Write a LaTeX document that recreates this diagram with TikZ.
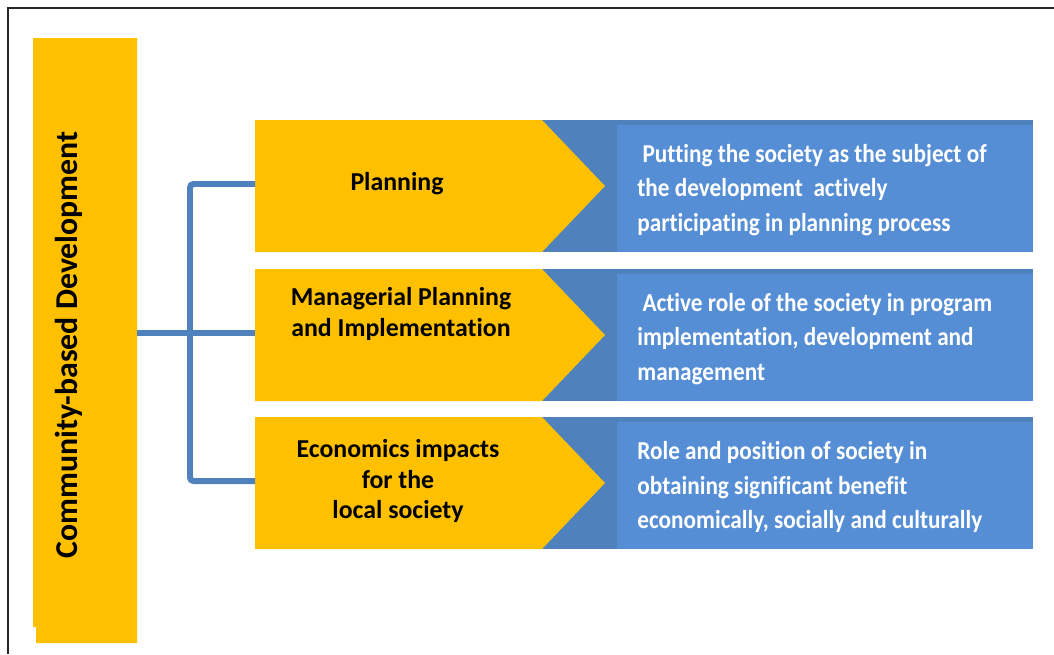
\documentclass[tikz,border=0pt]{standalone}
\usepackage{fontspec}
\setmainfont{Carlito}[Ligatures=NoCommon]
\newfontfamily\boxfont{Carlito}[FakeStretch=0.9, Ligatures=NoCommon]

\definecolor{myel}{RGB}{255, 192, 0}
\definecolor{mblu}{RGB}{85, 142, 213}
\definecolor{mdbl}{RGB}{79, 129, 189}

\tikzset{
	lab/.style={font=\bfseries\fontsize{14.7}{17.3}\selectfont, align=center, text=black, inner sep=0pt},
	txt/.style={font=\boxfont\bfseries\fontsize{14.7}{19.6}\selectfont, align=left, text=white, anchor=west, inner sep=0pt},
	conn/.style={mdbl, line width=3.4pt, rounded corners=2pt}
}

\begin{document}
\begin{tikzpicture}[x=0.02cm, y=-0.02cm]
			\useasboundingbox (0,0) rectangle (1054,654);

			% --- Frame ---
			\draw[black!85, line width=1.1pt] (8,654) -- (8,8) -- (1054,8);

			% --- Left bar ---
			\fill[myel] (33,38) -- (137,38) -- (137,643) -- (36,643) -- (36,627) -- (33,627) -- cycle;
			\node[rotate=90, font=\bfseries\fontsize{18.1}{20}\selectfont] (cbd) at (69,345) {Community-based Development};
			\coordinate (cbd-e) at (137,333);
			\coordinate (hub) at (190,333);

			% --- Rows: blue box behind a yellow chevron ---
			\foreach \ry/\nm in {120/plan, 269/mgmt, 417/econ} {
					\fill[mdbl] (542,\ry) rectangle (1033,\ry+132);
					\fill[mblu] (617,\ry+5) rectangle (1033,\ry+132);
					\fill[myel] (255,\ry) -- (542,\ry) -- (605,\ry+66) -- (542,\ry+132) -- (255,\ry+132) -- cycle;
					\coordinate (\nm-w) at (255,\ry+64);
				}

			\node[lab] (plan) at (397,184) {Planning};
			\node[lab] (mgmt) at (401,314) {Managerial Planning\\and Implementation};
			\node[lab] (econ) at (398,481) {Economics impacts\\for the\\local society};

			\node[txt] (plan-txt) at (637,190) {\ Putting the society as the subject of\\the development\ \ actively\\participating in planning process};
			\node[txt] (mgmt-txt) at (637,339) {\ Active role of the society in program\\implementation, development and\\management};
			\node[txt] (econ-txt) at (637,487) {Role and position of society in\\obtaining significant benefit\\economically, socially and culturally};

			% --- Connectors ---
			\draw[conn] (cbd-e) -- (mgmt-w);
			\draw[conn] (plan-w) -| (hub) |- (econ-w);

		\end{tikzpicture}
\end{document}
